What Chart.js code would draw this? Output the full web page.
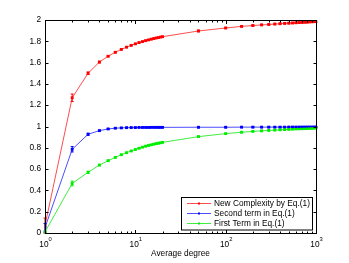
<!DOCTYPE html>
<html><head><meta charset="utf-8">
<script src="https://cdn.jsdelivr.net/npm/chart.js@4/dist/chart.umd.min.js"></script>
<style>html,body{margin:0;padding:0;background:#fff}#w{width:349px;height:263px}</style>
</head><body><div id="w"><canvas id="c"></canvas></div>
<script>
const degrees = [1,2,3,4,5,6,7,8,9,10,11,12,13,14,15,16,17,18,19,20,50,100,150,200,250,300,350,400,450,500,550,600,650,700,750,800,850,900,950,1000];
const newComplexity = [0.07,1.27,1.50,1.605,1.66,1.697,1.724,1.745,1.762,1.776,1.788,1.797,1.806,1.813,1.820,1.826,1.831,1.835,1.840,1.843,1.897,1.925,1.940,1.948,1.954,1.958,1.962,1.965,1.968,1.970,1.972,1.974,1.976,1.977,1.979,1.980,1.982,1.983,1.984,1.985];
const newComplexityErr = [0.07,0.035,0.012,0.008,0.006,0.006,0.005,0.005,0.005,0.005,0.005,0.005,0.005,0.005,0.005,0.005,0.005,0.005,0.005,0.005,0.008,0.006,0.006,0.006,0.006,0.006,0.006,0.006,0.006,0.006,0.006,0.006,0.006,0.006,0.006,0.006,0.006,0.006,0.006,0.006];
const secondTerm = [0.05,0.786,0.927,0.961,0.977,0.984,0.987,0.989,0.990,0.990,0.991,0.991,0.991,0.991,0.992,0.992,0.992,0.992,0.992,0.992,0.993,0.993,0.994,0.994,0.994,0.994,0.994,0.994,0.994,0.995,0.995,0.995,0.995,0.995,0.995,0.995,0.995,0.995,0.995,0.995];
const secondTermErr = [0.04,0.025,0.01,0.006,0.005,0.004,0.004,0.004,0.004,0.004,0.004,0.004,0.004,0.004,0.004,0.004,0.004,0.004,0.004,0.004,0.006,0.005,0.005,0.005,0.005,0.005,0.005,0.005,0.005,0.005,0.005,0.005,0.005,0.005,0.005,0.005,0.005,0.005,0.005,0.005];
const firstTerm = [0.01,0.465,0.570,0.638,0.679,0.710,0.735,0.754,0.770,0.784,0.796,0.806,0.815,0.822,0.828,0.834,0.839,0.843,0.847,0.851,0.905,0.933,0.946,0.954,0.959,0.963,0.966,0.969,0.971,0.973,0.975,0.977,0.978,0.979,0.980,0.981,0.982,0.983,0.984,0.985];
const firstTermErr = [0.01,0.022,0.01,0.006,0.005,0.004,0.004,0.004,0.004,0.004,0.004,0.004,0.004,0.004,0.004,0.004,0.004,0.004,0.004,0.004,0.005,0.004,0.004,0.004,0.004,0.004,0.004,0.004,0.004,0.004,0.004,0.004,0.004,0.004,0.004,0.004,0.004,0.004,0.004,0.004];
const seriesNames = ['New Complexity by Eq.(1)','Second term in Eq.(1)','First Term in Eq.(1)'];
const seriesColors = ['#ff0000','#0000ff','#00ee00'];
const lineColors = ['rgba(255,0,0,0.7)','rgba(0,0,255,0.7)','rgba(0,230,0,0.75)'];
const yTicks = [0,0.2,0.4,0.6,0.8,1,1.2,1.4,1.6,1.8,2];
const yTickLabels = ['0','0.2','0.4','0.6','0.8','1','1.2','1.4','1.6','1.8','2'];
const xTicks = [1,10,100,1000];
const xTickExp = ['0','1','2','3'];
const xLabel = 'Average degree';
const FONT = '"Liberation Sans", Arial, sans-serif';

const seriesValues = [newComplexity, secondTerm, firstTerm];
const seriesErrs = [newComplexityErr, secondTermErr, firstTermErr];

const datasets = seriesValues.map((vals, i) => ({
  label: seriesNames[i],
  data: vals.map((v, k) => ({x: degrees[k], y: v})),
  errs: seriesErrs[i],
  borderColor: lineColors[i],
  backgroundColor: seriesColors[i],
  pointBackgroundColor: seriesColors[i],
  pointBorderWidth: 0,
  pointStyle: 'rect',
  pointRadius: 2,
  borderWidth: 1,
  tension: 0,
  fill: false,
  order: 2 - i
}));

const framePlugin = {
  id: 'frame',
  afterDatasetsDraw(chart) {
    const ctx = chart.ctx, a = chart.chartArea;
    const xs = chart.scales.x, ys = chart.scales.y;
    ctx.save();
    // error bars
    chart.data.datasets.forEach((ds, di) => {
      ctx.strokeStyle = seriesColors[di];
      ctx.lineWidth = 1;
      ds.data.forEach((p, k) => {
        const e = ds.errs[k];
        const px = xs.getPixelForValue(p.x);
        const y1 = ys.getPixelForValue(p.y - e), y2 = ys.getPixelForValue(p.y + e);
        ctx.beginPath();
        ctx.moveTo(px, y1); ctx.lineTo(px, y2);
        ctx.moveTo(px - 1.5, y1); ctx.lineTo(px + 1.5, y1);
        ctx.moveTo(px - 1.5, y2); ctx.lineTo(px + 1.5, y2);
        ctx.stroke();
      });
    });
    // frame
    ctx.strokeStyle = '#000';
    ctx.lineWidth = 1;
    const L = Math.round(a.left) + 0.5, R = Math.round(a.right) + 0.5, T = Math.round(a.top) + 0.5, B = Math.round(a.bottom) + 0.5;
    ctx.strokeRect(L, T, R - L, B - T);
    // y ticks
    ctx.beginPath();
    yTicks.forEach(v => {
      const py = Math.round(ys.getPixelForValue(v)) + 0.5;
      ctx.moveTo(L, py); ctx.lineTo(L + 3, py);
      ctx.moveTo(R, py); ctx.lineTo(R - 3, py);
    });
    // x ticks (major + minor)
    xTicks.forEach((d, i) => {
      const px = Math.round(xs.getPixelForValue(d)) + 0.5;
      ctx.moveTo(px, B); ctx.lineTo(px, B - 3.5);
      ctx.moveTo(px, T); ctx.lineTo(px, T + 3.5);
      if (i < xTicks.length - 1) {
        for (let m = 2; m <= 9; m++) {
          const qx = Math.round(xs.getPixelForValue(d * m)) + 0.5;
          ctx.moveTo(qx, B); ctx.lineTo(qx, B - 2);
          ctx.moveTo(qx, T); ctx.lineTo(qx, T + 2);
        }
      }
    });
    ctx.stroke();
    // x tick labels with superscripts
    ctx.fillStyle = '#000';
    ctx.textBaseline = 'alphabetic';
    xTicks.forEach((d, i) => {
      const px = xs.getPixelForValue(d);
      ctx.font = '8.3px ' + FONT;
      const w1 = ctx.measureText('10').width;
      ctx.font = '5.8px ' + FONT;
      const w2 = ctx.measureText(xTickExp[i]).width;
      const x0 = px - (w1 + w2) / 2 + 0.5;
      ctx.font = '8.3px ' + FONT;
      ctx.textAlign = 'left';
      ctx.fillText('10', x0, a.bottom + 14);
      ctx.font = '5.8px ' + FONT;
      ctx.fillText(xTickExp[i], x0 + w1, a.bottom + 7.5);
    });
    // x axis title
    ctx.font = '8.3px ' + FONT;
    ctx.textAlign = 'center';
    ctx.textBaseline = 'middle';
    ctx.fillText(xLabel, (a.left + a.right) / 2, a.bottom + 21);
    // legend
    const lx = a.right - 135, ly = a.bottom - 36, lw = 131, lh = 32.5;
    ctx.fillStyle = '#fff';
    ctx.fillRect(lx, ly, lw, lh);
    ctx.strokeStyle = '#000';
    ctx.strokeRect(Math.round(lx) + 0.5, Math.round(ly) + 0.5, lw, lh);
    seriesNames.forEach((name, i) => {
      const ry = ly + 6.5 + i * 10;
      ctx.strokeStyle = lineColors[i];
      ctx.beginPath();
      ctx.moveTo(lx + 6, ry); ctx.lineTo(lx + 30, ry);
      ctx.stroke();
      ctx.fillStyle = seriesColors[i];
      ctx.fillRect(lx + 17, ry - 1, 2, 2);
      ctx.fillStyle = '#000';
      ctx.textAlign = 'left';
      ctx.textBaseline = 'middle';
      ctx.font = '8.3px ' + FONT;
      ctx.fillText(name, lx + 33, ry + 0.5);
    });
    ctx.restore();
  }
};

new Chart(document.getElementById('c'), {
  type: 'line',
  data: { datasets },
  options: {
    responsive: true,
    maintainAspectRatio: false,
    animation: false,
    layout: { padding: { top: 20, right: 33, left: 0, bottom: 0 } },
    plugins: { legend: { display: false }, tooltip: { enabled: false } },
    scales: {
      x: {
        type: 'logarithmic', min: 1, max: 1000,
        grid: { display: false, drawTicks: false },
        border: { display: false },
        ticks: { display: false },
        afterFit(s) { s.height = 30; }
      },
      y: {
        type: 'linear', min: 0, max: 2,
        grid: { display: false, drawTicks: false },
        border: { display: false },
        afterBuildTicks(s) { s.ticks = yTicks.map(v => ({ value: v })); },
        ticks: {
          padding: 4,
          color: '#000',
          font: { family: FONT, size: 8.3 },
          callback(v) { const i = yTicks.indexOf(v); return i >= 0 ? yTickLabels[i] : ''; }
        },
        afterFit(s) { s.width = 45; }
      }
    }
  },
  plugins: [framePlugin]
});
</script>
</body></html>
